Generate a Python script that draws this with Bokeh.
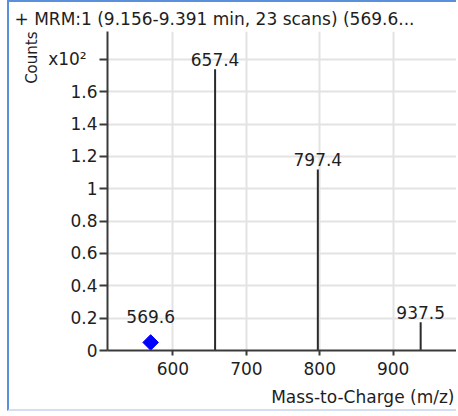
from bokeh.plotting import figure
from bokeh.models import Range1d, FixedTicker, CustomJSTickFormatter, ColumnDataSource, Title
from bokeh.core.properties import value
from bokeh.embed import file_html
from bokeh.resources import INLINE

# Product ions of the MRM transition: m/z and abundance (counts)
product_mz = [657.4, 797.4, 937.5]
product_counts = [174.0, 112.0, 17.5]

# Precursor ion marker, drawn just above the baseline
precursor_mz = [569.6]
precursor_counts = [5.0]

# Axis ticks (y in units of x10^2 counts)
y_ticks = [0, 0.2, 0.4, 0.6, 0.8, 1, 1.2, 1.4, 1.6, 1.8]
x_ticks = [600, 700, 800, 900]
y_scale = 100.0
y_multiplier_label = "x10\u00b2\u00a0\u00a0"

title_text = "+ MRM:1 (9.156-9.391 min, 23 scans) (569.6..."
x_label = "Mass-to-Charge (m/z)"
y_label = "Counts"

FONT = "DejaVu Sans"
TXT = "#1e1e1e"
AX = "#3a3a3a"
FS = "17px"

# the window frame is drawn as CSS borders around the canvas
p = figure(width=449, height=411, output_backend="svg", toolbar_location=None,
           x_range=Range1d(510.8, 987.7), y_range=Range1d(0, 1.973),
           min_border_left=98, min_border_right=1, min_border_top=29,
           min_border_bottom=62)
p.styles = {
    "margin-left": "7px",
    "border-left": "2px solid #5a8fdc",
    "border-top": "2px solid #5a8fdc",
    "border-bottom": "2px solid #d4e0f2",
    "border-right": "none",
}
p.outline_line_color = None
p.background_fill_color = "white"
p.border_fill_color = "white"

# title, left aligned against the window edge
p.title.text = title_text
p.title.text_font = FONT
p.title.text_font_size = FS
p.title.text_font_style = "normal"
p.title.text_color = TXT
p.title.align = "left"
p.title.offset = -93
p.title.standoff = 6

# axes
for ax in (p.xaxis[0], p.yaxis[0]):
    ax.axis_line_color = AX
    ax.axis_line_width = 2
    ax.major_tick_line_color = AX
    ax.major_tick_line_width = 2
    ax.minor_tick_line_color = None
    ax.major_tick_in = 0
    ax.major_label_text_font = FONT
    ax.major_label_text_font_size = FS
    ax.major_label_text_color = TXT
p.yaxis.major_tick_out = 8
p.xaxis.major_tick_out = 5
p.yaxis.major_label_standoff = 2
p.xaxis.major_label_standoff = 6
p.yaxis.ticker = FixedTicker(ticks=y_ticks)
p.xaxis.ticker = FixedTicker(ticks=x_ticks)
p.yaxis.formatter = CustomJSTickFormatter(
    args=dict(mult=y_multiplier_label),
    code="return tick > 1.75 ? mult : String(Math.round(tick * 10) / 10);")

# axis titles, pushed to the ends of their axes
p.add_layout(Title(text=x_label, align="right", offset=3, standoff=14,
                   text_font=FONT, text_font_size=FS, text_font_style="normal",
                   text_color=TXT), "below")
p.add_layout(Title(text=y_label, align="right", offset=0, standoff=10,
                   text_font=FONT, text_font_size="15px", text_font_style="normal",
                   text_color=TXT), "left")

for g in (p.xgrid[0], p.ygrid[0]):
    g.grid_line_color = "#e3e3e3"
    g.grid_line_width = 2

# product ion sticks
prod = ColumnDataSource(dict(
    x=product_mz,
    y=[c / y_scale for c in product_counts],
    label=[f"{m:.1f}" for m in product_mz],
))
p.segment(x0="x", y0=0, x1="x", y1="y", source=prod, line_color="#2a2a2a", line_width=2)
p.text(x="x", y="y", text="label", source=prod, text_font=value(FONT),
       text_font_size=FS, text_color=TXT, text_align="center",
       text_baseline="bottom", y_offset=-3)

# precursor marker
prec = ColumnDataSource(dict(
    x=precursor_mz,
    y=[c / y_scale for c in precursor_counts],
    label=[f"{m:.1f}" for m in precursor_mz],
))
p.scatter(x="x", y="y", source=prec, marker="square", angle=0.7854, size=11, color="#0000ff")
p.text(x="x", y="y", text="label", source=prec, text_font=value(FONT),
       text_font_size=FS, text_color=TXT, text_align="center",
       text_baseline="bottom", y_offset=-19)

open("out.html", "w").write(file_html(p, INLINE))
